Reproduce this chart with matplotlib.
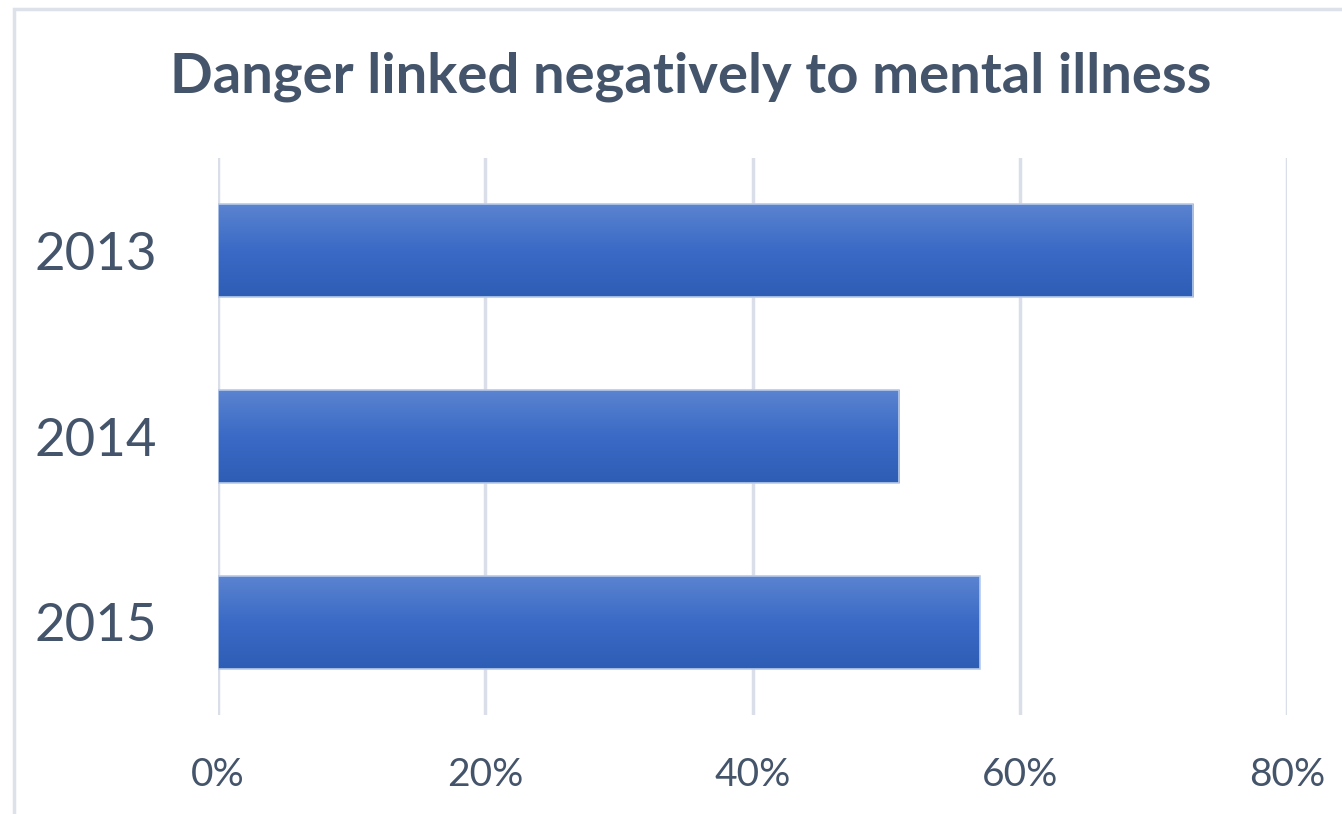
import numpy as np
import matplotlib.pyplot as plt
from matplotlib.colors import LinearSegmentedColormap
from matplotlib.patches import Rectangle

years = ['2013', '2014', '2015']
shares = [0.73, 0.51, 0.57]
xticks = [0, 0.2, 0.4, 0.6, 0.8]
xlabels = ['0%', '20%', '40%', '60%', '80%']

text_col = '#44546a'
grid_col = '#d9dee8'
W, H = 1342, 814

plt.rcParams['font.family'] = ['Lato', 'DejaVu Sans']

fig = plt.figure(figsize=(W / 100, H / 100), dpi=100)
fig.patch.set_facecolor('white')

# chart border, runs off the right and bottom
fig.add_artist(Rectangle((14 / W, -0.1), 1.2, (H - 9) / H + 0.1,
                         transform=fig.transFigure, fill=False,
                         edgecolor='#dde1ea', linewidth=2.5))

ax = fig.add_axes([218 / W, 1 - 715 / H, (1287 - 218) / W, (715 - 158) / H])

for s in ax.spines.values():
    s.set_visible(False)
ax.set_xticks(xticks)
ax.set_xticklabels(xlabels)
ax.set_yticks(range(len(years)))
ax.set_yticklabels(years)
ax.tick_params(axis='both', length=0, colors=text_col)
ax.tick_params(axis='x', labelsize=28, pad=30)
ax.tick_params(axis='y', labelsize=38, pad=44)
ax.grid(axis='x', color=grid_col, linewidth=2.5)
ax.set_axisbelow(True)

# bars with a vertical blue gradient
cmap = LinearSegmentedColormap.from_list('bar', ['#5b84d0', '#3a6ac6', '#2d5db4'])
grad = np.linspace(0, 1, 256).reshape(-1, 1)
bars = ax.barh(range(len(years)), shares, height=0.5, color='none',
               edgecolor='#b9cbe9', linewidth=1.2, zorder=3)
for b in bars:
    x0, y0 = b.get_x(), b.get_y()
    ax.imshow(grad, cmap=cmap, aspect='auto', zorder=2.5,
              extent=(x0, x0 + b.get_width(), y0 + b.get_height(), y0))
ax.set_xlim(0, 0.8)
ax.set_ylim(2.5, -0.5)

fig.text(691 / W, 1 - 77 / H, 'Danger linked negatively to mental illness',
         ha='center', va='center', fontsize=40.5, fontweight='bold', color=text_col)

fig.savefig('out.png', dpi=100)
